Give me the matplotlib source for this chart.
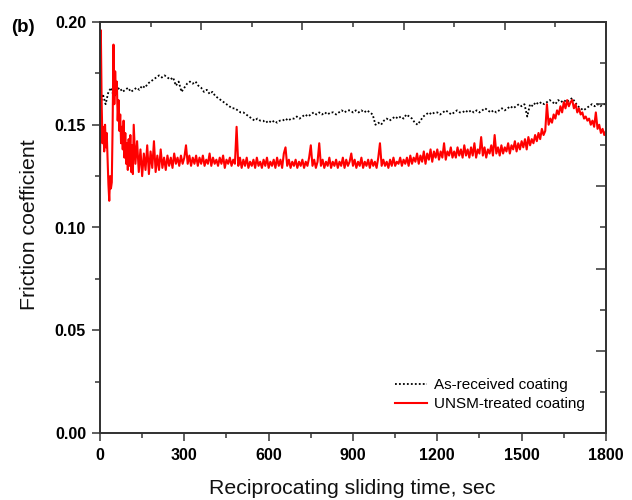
import numpy as np
import matplotlib.pyplot as plt
from matplotlib.ticker import MultipleLocator

plt.rcParams['font.family'] = ['Liberation Sans', 'DejaVu Sans']

# friction coefficient of the as-received coating, one reading every 10 s
as_received = [
    0.158, 0.165, 0.160, 0.166, 0.168, 0.163, 0.167, 0.168, 0.166, 0.167,
    0.168, 0.166, 0.167, 0.168, 0.167, 0.169, 0.168, 0.170, 0.171, 0.172,
    0.173, 0.174, 0.173, 0.174, 0.173, 0.172, 0.173, 0.169, 0.171, 0.166,
    0.168, 0.170, 0.171, 0.170, 0.171, 0.169, 0.168, 0.166, 0.167, 0.165,
    0.166, 0.164, 0.163, 0.162, 0.161, 0.160, 0.159, 0.158, 0.158, 0.157,
    0.156, 0.156, 0.155, 0.154, 0.153, 0.152, 0.153, 0.152, 0.152, 0.151,
    0.152, 0.151, 0.152, 0.151, 0.152, 0.152, 0.153, 0.152, 0.153, 0.153,
    0.154, 0.153, 0.154, 0.155, 0.154, 0.155, 0.156, 0.155, 0.156, 0.155,
    0.156, 0.155, 0.156, 0.156, 0.155, 0.156, 0.157, 0.156, 0.157, 0.157,
    0.156, 0.157, 0.156, 0.157, 0.156, 0.157, 0.156, 0.155, 0.150, 0.151,
    0.150, 0.152, 0.153, 0.152, 0.153, 0.154, 0.153, 0.154, 0.153, 0.155,
    0.154, 0.153, 0.151, 0.150, 0.152, 0.154, 0.155, 0.156, 0.155, 0.156,
    0.156, 0.155, 0.156, 0.157, 0.156, 0.155, 0.156, 0.157, 0.156, 0.156,
    0.157, 0.156, 0.157, 0.156, 0.157, 0.156, 0.157, 0.158, 0.157, 0.156,
    0.157, 0.156, 0.157, 0.158, 0.157, 0.158, 0.159, 0.158, 0.159, 0.160,
    0.159, 0.160, 0.154, 0.160, 0.159, 0.161, 0.160, 0.161, 0.160, 0.161,
    0.162, 0.161, 0.160, 0.162, 0.161, 0.162, 0.161, 0.162, 0.163, 0.161,
    0.159, 0.158, 0.157, 0.158, 0.159, 0.160, 0.159, 0.160, 0.159, 0.160,
    0.160,
]

# UNSM-treated coating: running-in (0-117 s, every 3 s), then every 6 s
unsm_runin = [
    0.121, 0.196, 0.160, 0.141, 0.149, 0.137, 0.150, 0.139, 0.146, 0.133,
    0.121, 0.113, 0.125, 0.119, 0.122, 0.150, 0.189, 0.160, 0.176, 0.165,
    0.171, 0.152, 0.162, 0.147, 0.155, 0.141, 0.149, 0.138, 0.152, 0.134,
    0.146, 0.131, 0.141, 0.128, 0.143, 0.130, 0.145, 0.127, 0.140, 0.126,
]
unsm_steady = [
    0.150, 0.131, 0.142, 0.127, 0.138, 0.125, 0.136, 0.128, 0.140, 0.126,
    0.137, 0.129, 0.142, 0.127, 0.135, 0.128, 0.138, 0.129, 0.134, 0.128,
    0.135, 0.130, 0.134, 0.129, 0.136, 0.131, 0.134, 0.130, 0.135, 0.131,
    0.134, 0.140, 0.131, 0.135, 0.130, 0.134, 0.131, 0.135, 0.130, 0.134,
    0.131, 0.135, 0.130, 0.133, 0.131, 0.136, 0.130, 0.134, 0.131, 0.133,
    0.130, 0.134, 0.131, 0.135, 0.129, 0.133, 0.131, 0.134, 0.130, 0.133,
    0.131, 0.149, 0.130, 0.134, 0.129, 0.133, 0.130, 0.134, 0.129, 0.132,
    0.130, 0.133, 0.129, 0.134, 0.130, 0.132, 0.129, 0.133, 0.130, 0.134,
    0.129, 0.132, 0.130, 0.133, 0.129, 0.134, 0.130, 0.133, 0.129, 0.136,
    0.139, 0.130, 0.133, 0.129, 0.132, 0.130, 0.133, 0.129, 0.132, 0.130,
    0.133, 0.129, 0.132, 0.130, 0.134, 0.140, 0.130, 0.133, 0.129, 0.132,
    0.141, 0.130, 0.133, 0.129, 0.132, 0.130, 0.134, 0.129, 0.132, 0.130,
    0.133, 0.129, 0.132, 0.130, 0.134, 0.129, 0.133, 0.130, 0.132, 0.136,
    0.130, 0.133, 0.129, 0.132, 0.130, 0.134, 0.129, 0.132, 0.130, 0.133,
    0.129, 0.133, 0.130, 0.132, 0.129, 0.134, 0.141, 0.130, 0.133, 0.130,
    0.132, 0.129, 0.133, 0.130, 0.134, 0.130, 0.132, 0.131, 0.134, 0.130,
    0.133, 0.131, 0.134, 0.130, 0.135, 0.131, 0.134, 0.132, 0.136, 0.131,
    0.135, 0.132, 0.137, 0.131, 0.136, 0.133, 0.138, 0.132, 0.137, 0.134,
    0.138, 0.133, 0.137, 0.134, 0.141, 0.133, 0.137, 0.135, 0.139, 0.134,
    0.137, 0.134, 0.139, 0.135, 0.138, 0.134, 0.140, 0.135, 0.138, 0.134,
    0.139, 0.135, 0.141, 0.134, 0.138, 0.136, 0.144, 0.135, 0.139, 0.134,
    0.138, 0.136, 0.140, 0.135, 0.145, 0.136, 0.139, 0.135, 0.140, 0.136,
    0.139, 0.137, 0.141, 0.136, 0.140, 0.138, 0.142, 0.137, 0.141, 0.138,
    0.142, 0.139, 0.143, 0.138, 0.144, 0.140, 0.143, 0.141, 0.145, 0.142,
    0.146, 0.143, 0.148, 0.145, 0.147, 0.160, 0.150, 0.153, 0.151, 0.155,
    0.153, 0.157, 0.155, 0.159, 0.156, 0.161, 0.158, 0.162, 0.159, 0.161,
    0.162, 0.158, 0.160, 0.156, 0.158, 0.155, 0.156, 0.153, 0.154, 0.152,
    0.153, 0.150, 0.152, 0.149, 0.156, 0.148, 0.150, 0.146, 0.148, 0.145,
    0.147,
]

t_received = np.arange(len(as_received)) * 10.0
t_unsm = np.concatenate([np.arange(len(unsm_runin)) * 3.0,
                         120.0 + np.arange(len(unsm_steady)) * 6.0])
unsm = unsm_runin + unsm_steady

edge = '#333333'

fig = plt.figure(figsize=(6.32, 5.0), dpi=100)
ax = fig.add_axes([0.1582, 0.134, 0.8006, 0.822])

ax.plot(t_received, as_received, color='black', lw=1.3, ls=(0, (1, 1.2)),
        label='As-received coating')
ax.plot(t_unsm, unsm, color='#ff0000', lw=1.5, label='UNSM-treated coating')

ax.set_xlim(0, 1800)
ax.set_ylim(0, 0.20)
ax.xaxis.set_major_locator(MultipleLocator(300))
ax.xaxis.set_minor_locator(MultipleLocator(150))
ax.yaxis.set_major_locator(MultipleLocator(0.05))
ax.yaxis.set_minor_locator(MultipleLocator(0.025))
ax.yaxis.set_major_formatter(plt.FormatStrFormatter('%.2f'))

for s in ax.spines.values():
    s.set_color(edge)
    s.set_linewidth(1.1)

ax.tick_params(which='major', direction='out', length=6, width=1.1,
               color=edge, labelsize=11.5, pad=4)
ax.tick_params(which='minor', direction='out', length=3.5, width=1.1, color=edge)
ax.tick_params(axis='x', pad=5)
for lab in ax.get_xticklabels() + ax.get_yticklabels():
    lab.set_fontweight('bold')

# mirrored top and right axes, ticks pointing in
top = ax.twiny()
top.set_xlim(0, 1800)
top.xaxis.set_major_locator(MultipleLocator(360))
top.xaxis.set_minor_locator(MultipleLocator(180))
top.tick_params(which='major', direction='in', length=6, width=1.1, color=edge,
                labeltop=False)
top.tick_params(which='minor', direction='in', length=3.5, width=1.1, color=edge)

right = ax.twinx()
right.set_ylim(0, 0.20)
right.yaxis.set_major_locator(MultipleLocator(0.04))
right.yaxis.set_minor_locator(MultipleLocator(0.02))
right.tick_params(which='major', direction='in', length=7, width=1.1, color=edge,
                  labelright=False)
right.tick_params(which='minor', direction='in', length=4, width=1.1, color=edge)
for a in (top, right):
    for s in a.spines.values():
        s.set_color(edge)
        s.set_linewidth(1.1)

ax.set_xlabel('Reciprocating sliding time, sec', fontsize=15.3, color='#111111')
ax.set_ylabel('Friction coefficient', fontsize=15.3, color='#111111')
ax.xaxis.set_label_coords(0.499, -0.136)
ax.xaxis.label.set_va('center')
ax.yaxis.set_label_coords(-0.140, 0.506)
ax.yaxis.label.set_va('center')

fig.text(0.018, 0.946, '(b)', fontsize=13.5, fontweight='bold', va='center')

ax.legend(loc='upper left', bbox_to_anchor=(0.583, 0.133), frameon=False,
          fontsize=11, handlelength=2.1, handletextpad=0.45, labelspacing=0.3,
          borderpad=0, borderaxespad=0)

fig.savefig('out.png', dpi=100)
